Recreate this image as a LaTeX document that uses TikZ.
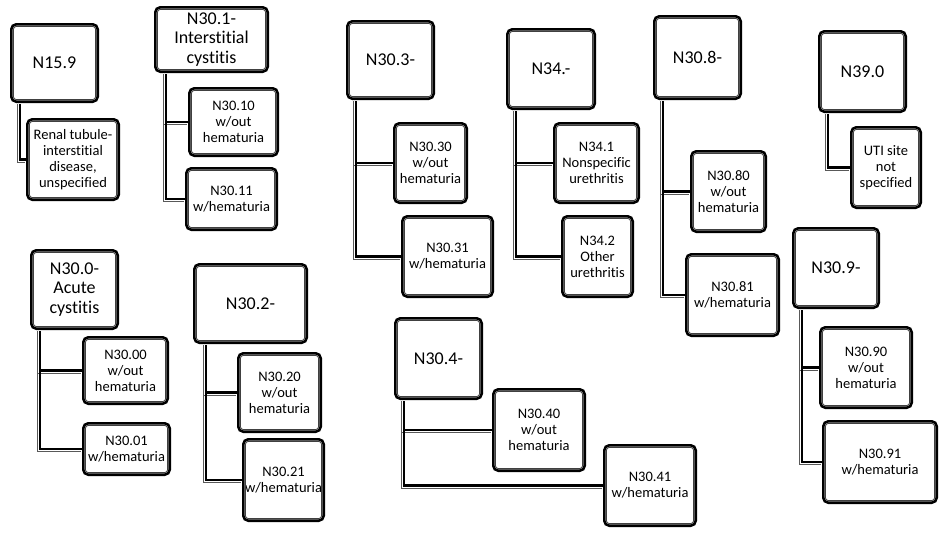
\documentclass[tikz,border=0pt]{standalone}
\usepackage{fontspec}
\setmainfont{Carlito}[Ligatures=NoCommon]
\usepackage{tikz}
\usetikzlibrary{positioning}
\tikzset{%
	box/.style      = {draw, fill=white, line width=2.6pt, rounded corners=5pt, align=center, inner sep=0pt},
	parent/.style   = {box, font=\fontsize{18}{19.5}\selectfont},
	leaf/.style     = {box, font=\fontsize{14.5}{16}\selectfont},
	innerline/.style= {draw=black!75, line width=0.8pt, rounded corners=3pt},
	link/.style     = {line width=2.6pt},
	linkshade/.style= {draw=black!65, line width=0.8pt},
}

\begin{document}
\begin{tikzpicture}[x=1pt,y=-1pt]
	\useasboundingbox (0,0) rectangle (940,546);

	% top row
	\node[parent, minimum width=86.4pt, minimum height=77.4pt] (n159) at (54.5,63) {N15.9};
	\node[leaf, minimum width=91.4pt, minimum height=80.4pt] (n159a) at (73,159.5) {Renal tubule-\\interstitial\\disease,\\unspecified};

	\node[parent, minimum width=112.4pt, minimum height=64.4pt] (n301) at (211.5,39.5) {N30.1-\\Interstitial\\cystitis};
	\node[leaf, minimum width=88.4pt, minimum height=67.4pt] (n3010) at (233.5,122) {N30.10\\w/out\\hematuria};
	\node[leaf, minimum width=90.4pt, minimum height=61.4pt] (n3011) at (231.5,199) {N30.11\\w/hematuria};

	\node[parent, minimum width=86.4pt, minimum height=77.4pt] (n303) at (390.5,60) {N30.3-};
	\node[leaf, minimum width=72.4pt, minimum height=79.4pt] (n3030) at (430.5,163) {N30.30\\w/out\\hematuria};
	\node[leaf, minimum width=90.4pt, minimum height=80.4pt] (n3031) at (447.5,256.5) {N30.31\\w/hematuria};

	\node[parent, minimum width=87.4pt, minimum height=79.4pt] (n34) at (551,69) {N34.-};
	\node[leaf, minimum width=84.4pt, minimum height=79.4pt] (n341) at (596.5,163) {N34.1\\Nonspecific\\urethritis};
	\node[leaf, minimum width=70.4pt, minimum height=80.4pt] (n342) at (597.5,256.5) {N34.2\\Other\\urethritis};

	\node[parent, minimum width=86.4pt, minimum height=82.4pt] (n308) at (697.5,57.5) {N30.8-};
	\node[leaf, minimum width=74.4pt, minimum height=80.4pt] (n3080) at (728.5,191.5) {N30.80\\w/out\\hematuria};
	\node[leaf, minimum width=92.4pt, minimum height=81.4pt] (n3081) at (732.5,295) {N30.81\\w/hematuria};

	\node[parent, minimum width=86.4pt, minimum height=80.4pt] (n390) at (862.5,71.5) {N39.0};
	\node[leaf, minimum width=69.4pt, minimum height=80.4pt] (n390a) at (886,167.5) {UTI site\\not\\specified};

	% bottom row
	\node[parent, minimum width=86.4pt, minimum height=78.4pt] (n300) at (74.5,289.5) {N30.0-\\Acute\\cystitis};
	\node[leaf, minimum width=84.4pt, minimum height=66.4pt] (n3000) at (125.5,370.5) {N30.00\\w/out\\hematuria};
	\node[leaf, minimum width=86.4pt, minimum height=51.4pt] (n3001) at (126.5,449) {N30.01\\w/hematuria};

	\node[parent, minimum width=112.4pt, minimum height=78.4pt] (n302) at (250.5,303.5) {N30.2-};
	\node[leaf, minimum width=82.4pt, minimum height=78.4pt] (n3020) at (279.5,392.5) {N30.20\\w/out\\hematuria};
	\node[leaf, minimum width=80.4pt, minimum height=81.4pt] (n3021) at (283.5,480) {N30.21\\w/hematuria};

	\node[parent, minimum width=86.4pt, minimum height=80.4pt] (n304) at (438.5,358.5) {N30.4-};
	\node[leaf, minimum width=91.4pt, minimum height=81.4pt] (n3040) at (539,430) {N30.40\\w/out\\hematuria};
	\node[leaf, minimum width=91.4pt, minimum height=80.4pt] (n3041) at (650,485.5) {N30.41\\w/hematuria};

	\node[parent, minimum width=85.4pt, minimum height=79.4pt] (n309) at (836,268) {N30.9-};
	\node[leaf, minimum width=91.4pt, minimum height=80.4pt] (n3090) at (866,367.5) {N30.90\\w/out\\hematuria};
	\node[leaf, minimum width=113.4pt, minimum height=81.4pt] (n3091) at (880,462) {N30.91\\w/hematuria};

	% inner rims
	\foreach \n in {n159,n159a,n301,n3010,n3011,n303,n3030,n3031,n34,n341,n342,n308,n3080,n3081,n390,n390a,n300,n3000,n3001,n302,n3020,n3021,n304,n3040,n3041,n309,n3090,n3091}
		\draw[innerline] ([shift={(3.4pt,3.4pt)}]\n.south west) rectangle ([shift={(-3.4pt,-3.4pt)}]\n.north east);

	% connectors
	\foreach \p/\c/\d in {n159/n159a/10,n301/n3010/12,n301/n3011/12,n303/n3030/10,n303/n3031/10,n34/n341/10,n34/n342/10,n308/n3080/10,n308/n3081/10,n390/n390a/10,n300/n3000/10,n300/n3001/10,n302/n3020/13,n302/n3021/13,n304/n3040/10,n304/n3041/10,n309/n3090/10,n309/n3091/10} {
		\draw[linkshade] ([shift={(\d pt-2.6pt,-1.3pt)}]\p.south west) |- ([shift={(-1pt,-2.6pt)}]\c.west);
		\draw[link] ([shift={(\d pt,-1.3pt)}]\p.south west) |- (\c.west);
	}
\end{tikzpicture}
\end{document}
